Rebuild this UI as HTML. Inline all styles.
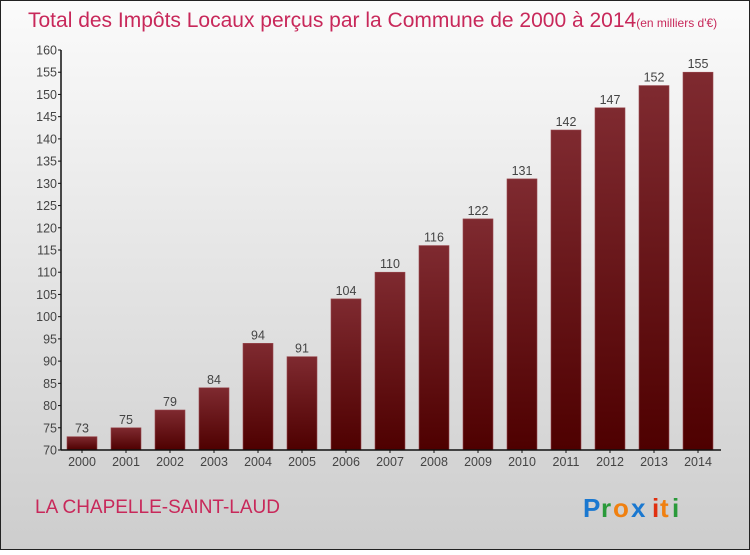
<!DOCTYPE html>
<html><head><meta charset="utf-8"><style>
html,body{margin:0;padding:0}
body{width:750px;height:550px;overflow:hidden;font-family:"Liberation Sans",sans-serif}
</style></head><body>
<svg width="750" height="550" xmlns="http://www.w3.org/2000/svg">
<defs>
<linearGradient id="bg" x1="0" y1="0" x2="0" y2="1"><stop offset="0" stop-color="#fbfbfb"/><stop offset="1" stop-color="#cdcdcd"/></linearGradient>
<linearGradient id="bar" x1="0" y1="0" x2="0" y2="1"><stop offset="0" stop-color="#7f2a30"/><stop offset="1" stop-color="#4e0000"/></linearGradient>
</defs>
<rect x="0.5" y="0.5" width="749" height="549" fill="url(#bg)" stroke="#222"/>
<text x="28" y="27" font-size="21" font-weight="normal" fill="#c8285a">Total des Impôts Locaux perçus par la Commune de 2000 à 2014<tspan font-size="12">(en milliers d'€)</tspan></text>
<g id="yaxis"></g>
<g id="bars"></g>
<g id="xaxis"></g>
<text x="35" y="513" font-size="19" fill="#c8285a">LA CHAPELLE-SAINT-LAUD</text>
<g font-size="26" font-weight="bold">
<text x="583" y="517" fill="#1a78d0">P</text><text x="601" y="517" fill="#2a9a3a">r</text><text x="613" y="517" fill="#f08010">o</text><text x="631" y="517" fill="#1a78d0">x</text><text x="652" y="517" fill="#e03010">i</text><text x="660" y="517" fill="#f08010">t</text><text x="672" y="517" fill="#2a9a3a">i</text>
</g>
</svg>
<script>
const years=["2000","2001","2002","2003","2004","2005","2006","2007","2008","2009","2010","2011","2012","2013","2014"];
const values=[73,75,79,84,94,91,104,110,116,122,131,142,147,152,155];
const yTicks=[70,75,80,85,90,95,100,105,110,115,120,125,130,135,140,145,150,155,160];
const NS="http://www.w3.org/2000/svg";
const yMin=70,yMax=160,plotTop=50,plotBot=450;
function yPos(v){return plotBot-(v-yMin)*(plotBot-plotTop)/(yMax-yMin);}
function xLeft(i){return 67+44*i;}
function mk(t,a,p){const e=document.createElementNS(NS,t);for(const k in a)e.setAttribute(k,a[k]);p.appendChild(e);return e;}
const ya=document.getElementById('yaxis'),ba=document.getElementById('bars'),xa=document.getElementById('xaxis');
mk('line',{x1:61,y1:plotTop,x2:61,y2:plotBot,stroke:'#111','stroke-width':1.5},ya);
yTicks.forEach(v=>{
  const y=yPos(v);
  const l=mk('line',{x1:58,y1:y,x2:61,y2:y,stroke:'#111'},ya);
  
  
  const t=mk('text',{x:57,y:y+4.5,'font-size':12.5,fill:'#444','text-anchor':'end'},ya);
  t.textContent=v;
  
  
});
mk('line',{x1:61,y1:plotBot,x2:721,y2:plotBot,stroke:'#111','stroke-width':1.5},xa);
years.forEach((yr,i)=>{
  const x=xLeft(i),yv=yPos(values[i]);
  const r=mk('rect',{x:x,y:yv,width:30,height:plotBot-yv,fill:'url(#bar)',stroke:'#9a4a50','stroke-width':0.6},ba);
  
  
  const v=mk('text',{x:x+15,y:yv-4,'font-size':12.5,fill:'#444','text-anchor':'middle'},ba);
  v.textContent=values[i];
  
  
  const tk=mk('line',{x1:x+15,y1:plotBot,x2:x+15,y2:plotBot+3,stroke:'#111'},xa);
  
  
  const t=mk('text',{x:x+15,y:plotBot+16,'font-size':12.5,fill:'#444','text-anchor':'middle'},xa);
  t.textContent=yr;
  
  
});
</script>
</body></html>
